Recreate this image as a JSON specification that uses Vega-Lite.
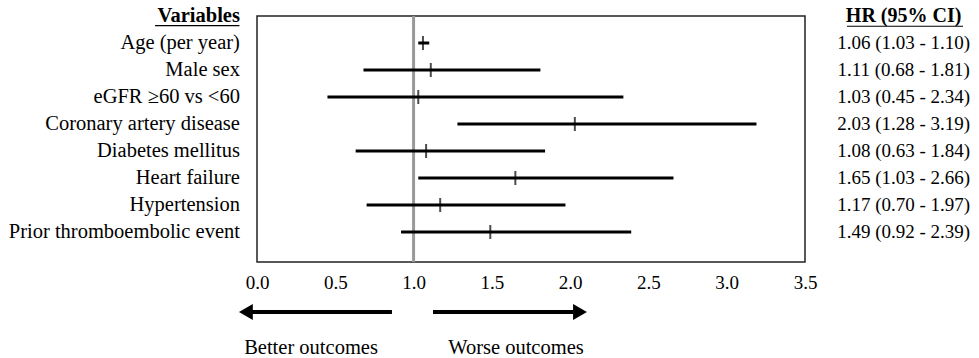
{
  "$schema": "https://vega.github.io/schema/vega-lite/v6.json",
  "width": 548,
  "height": 246,
  "autosize": {"type": "none"},
  "padding": {"left": 257, "top": 16, "right": 174, "bottom": 96},
  "background": "white",
  "config": {"view": {"stroke": "#222", "strokeWidth": 1.5}, "font": "Liberation Serif"},
  "datasets": {
    "rows": [
      {"order": 1, "variable": "Age (per year)", "hr": 1.06, "lo": 1.03, "hi": 1.10, "label": "1.06 (1.03 - 1.10)"},
      {"order": 2, "variable": "Male sex", "hr": 1.11, "lo": 0.68, "hi": 1.81, "label": "1.11 (0.68 - 1.81)"},
      {"order": 3, "variable": "eGFR ≥60 vs <60", "hr": 1.03, "lo": 0.45, "hi": 2.34, "label": "1.03 (0.45 - 2.34)"},
      {"order": 4, "variable": "Coronary artery disease", "hr": 2.03, "lo": 1.28, "hi": 3.19, "label": "2.03 (1.28 - 3.19)"},
      {"order": 5, "variable": "Diabetes mellitus", "hr": 1.08, "lo": 0.63, "hi": 1.84, "label": "1.08 (0.63 - 1.84)"},
      {"order": 6, "variable": "Heart failure", "hr": 1.65, "lo": 1.03, "hi": 2.66, "label": "1.65 (1.03 - 2.66)"},
      {"order": 7, "variable": "Hypertension", "hr": 1.17, "lo": 0.70, "hi": 1.97, "label": "1.17 (0.70 - 1.97)"},
      {"order": 8, "variable": "Prior thromboembolic event", "hr": 1.49, "lo": 0.92, "hi": 2.39, "label": "1.49 (0.92 - 2.39)"}
    ],
    "one": [{}]
  },
  "data": {"name": "rows"},
  "layer": [
    {
      "data": {"name": "one"},
      "mark": {"type": "rule", "color": "#999999", "strokeWidth": 3},
      "encoding": {
        "x": {"datum": 1, "type": "quantitative", "scale": {"domain": [0, 3.5], "nice": false, "zero": false},
          "axis": {"title": null, "values": [0, 0.5, 1, 1.5, 2, 2.5, 3, 3.5], "format": ".1f", "domain": false, "ticks": false, "grid": false, "labelFlush": false,
            "labelFont": "Liberation Serif", "labelFontSize": 19, "labelColor": "#000", "labelPadding": 11}}
      }
    },
    {
      "mark": {"type": "rule", "color": "#000", "strokeWidth": 3},
      "encoding": {
        "x": {"field": "lo", "type": "quantitative"},
        "x2": {"field": "hi"},
        "y": {"field": "order", "type": "quantitative", "scale": {"domain": [0, 9.11], "reverse": true, "nice": false, "zero": false}, "axis": null}
      }
    },
    {
      "mark": {"type": "tick", "orient": "vertical", "color": "#000", "size": 14, "thickness": 2},
      "encoding": {
        "x": {"field": "hr", "type": "quantitative"},
        "y": {"field": "order", "type": "quantitative"}
      }
    },
    {
      "mark": {"type": "text", "align": "right", "baseline": "middle", "fontSize": 20.5, "color": "#000"},
      "encoding": {
        "x": {"datum": -0.109, "type": "quantitative"},
        "y": {"field": "order", "type": "quantitative"},
        "text": {"field": "variable"}
      }
    },
    {
      "mark": {"type": "text", "align": "center", "baseline": "middle", "fontSize": 19, "color": "#000"},
      "encoding": {
        "x": {"datum": 4.13, "type": "quantitative"},
        "y": {"field": "order", "type": "quantitative"},
        "text": {"field": "label"}
      }
    },
    {
      "data": {"name": "one"},
      "mark": {"type": "text", "align": "right", "baseline": "middle", "fontSize": 20.5, "fontWeight": "bold", "color": "#000", "text": "Variables"},
      "encoding": {"x": {"datum": -0.109, "type": "quantitative"}, "y": {"datum": 0, "type": "quantitative"}}
    },
    {
      "data": {"name": "one"},
      "mark": {"type": "text", "align": "center", "baseline": "middle", "fontSize": 20, "fontWeight": "bold", "color": "#000", "text": "HR (95% CI)"},
      "encoding": {"x": {"datum": 4.13, "type": "quantitative"}, "y": {"datum": 0, "type": "quantitative"}}
    },
    {
      "data": {"name": "one"},
      "mark": {"type": "rule", "color": "#000", "strokeWidth": 1.2},
      "encoding": {"x": {"datum": -0.651, "type": "quantitative"}, "x2": {"datum": -0.112}, "y": {"datum": 0.36, "type": "quantitative"}}
    },
    {
      "data": {"name": "one"},
      "mark": {"type": "rule", "color": "#000", "strokeWidth": 1.2},
      "encoding": {"x": {"datum": 3.768, "type": "quantitative"}, "x2": {"datum": 4.509}, "y": {"datum": 0.38, "type": "quantitative"}}
    },
    {
      "data": {"name": "one"},
      "mark": {"type": "rule", "color": "#000", "strokeWidth": 4},
      "encoding": {"x": {"datum": -0.07, "type": "quantitative"}, "x2": {"datum": 0.862}, "y": {"datum": 10.96, "type": "quantitative"}}
    },
    {
      "data": {"name": "one"},
      "mark": {"type": "rule", "color": "#000", "strokeWidth": 4},
      "encoding": {"x": {"datum": 1.124, "type": "quantitative"}, "x2": {"datum": 2.063}, "y": {"datum": 10.96, "type": "quantitative"}}
    },
    {
      "data": {"name": "one"},
      "mark": {"type": "point", "shape": "triangle-left", "filled": true, "size": 256, "color": "#000", "opacity": 1},
      "encoding": {"x": {"datum": -0.071, "type": "quantitative"}, "y": {"datum": 10.96, "type": "quantitative"}}
    },
    {
      "data": {"name": "one"},
      "mark": {"type": "point", "shape": "triangle-right", "filled": true, "size": 256, "color": "#000", "opacity": 1},
      "encoding": {"x": {"datum": 2.063, "type": "quantitative"}, "y": {"datum": 10.96, "type": "quantitative"}}
    },
    {
      "data": {"name": "one"},
      "mark": {"type": "text", "align": "center", "baseline": "middle", "fontSize": 20.5, "color": "#000", "text": "Better outcomes"},
      "encoding": {"x": {"datum": 0.345, "type": "quantitative"}, "y": {"datum": 12.3, "type": "quantitative"}}
    },
    {
      "data": {"name": "one"},
      "mark": {"type": "text", "align": "center", "baseline": "middle", "fontSize": 20.5, "color": "#000", "text": "Worse outcomes"},
      "encoding": {"x": {"datum": 1.654, "type": "quantitative"}, "y": {"datum": 12.3, "type": "quantitative"}}
    }
  ]
}
